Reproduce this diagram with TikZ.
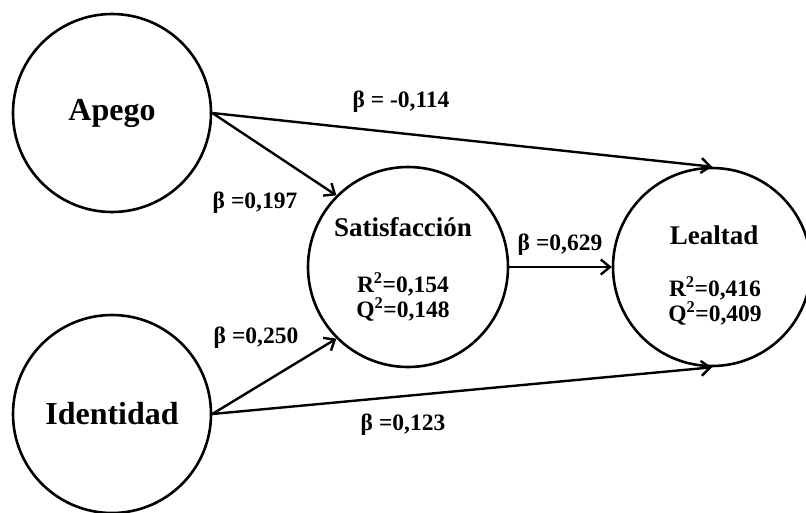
\documentclass[tikz,border=0pt]{standalone}
\usepackage{fontspec}
\setmainfont{Liberation Serif}
\usetikzlibrary{arrows.meta,positioning}

\tikzset{
  construct/.style={draw,circle,line width=2.6pt,inner sep=0pt,minimum size=198pt},
  bigname/.style={font=\bfseries\fontsize{32}{38}\selectfont},
  midname/.style={font=\bfseries\fontsize{27}{31}\selectfont},
  coef/.style={font=\bfseries\fontsize{23.5}{25}\selectfont},
  fitstat/.style={font=\bfseries\fontsize{23.5}{21}\selectfont,align=center},
  path/.style={line width=2.4pt,-{Straight Barb[length=9pt,width=15pt,line width=2.4pt]}}
}

\begin{document}
\begin{tikzpicture}[x=1pt,y=-1pt]
            \useasboundingbox (0,0) rectangle (806,512);
            % constructs
            \node[construct,bigname] (apego) at (112,113) {Apego};
            \node[construct,bigname] (ident) at (112,414) {Identidad};
            \node[construct,minimum size=200pt] (sat) at (408,267) {};
            \node[construct,minimum size=198pt] (leal) at (712,267) {};
            \node[midname] (satname) at (403,227) {Satisfacción};
            \node[fitstat] (satfit) at (403,297) {R\textsuperscript{2}=0,154\\Q\textsuperscript{2}=0,148};
            \node[midname] (lealname) at (714,235) {Lealtad};
            \node[fitstat] (lealfit) at (715,301) {R\textsuperscript{2}=0,416\\Q\textsuperscript{2}=0,409};
            % paths
            \draw[path] (apego.east) -- (leal.north);
            \draw[path] (apego.east) -- (sat.north west);
            \draw[path] (ident.east) -- (sat.south west);
            \draw[path] (ident.east) -- (leal.south);
            \draw[path] (sat.east) -- (leal.west);
            % coefficients
            \node[coef] (b1) at (401,102) {β = -0,114};
            \node[coef] (b2) at (255,203) {β =0,197};
            \node[coef] (b3) at (256,338) {β =0,250};
            \node[coef] (b4) at (560,245) {β =0,629};
            \node[coef] (b5) at (403,425) {β =0,123};
        \end{tikzpicture}
\end{document}
